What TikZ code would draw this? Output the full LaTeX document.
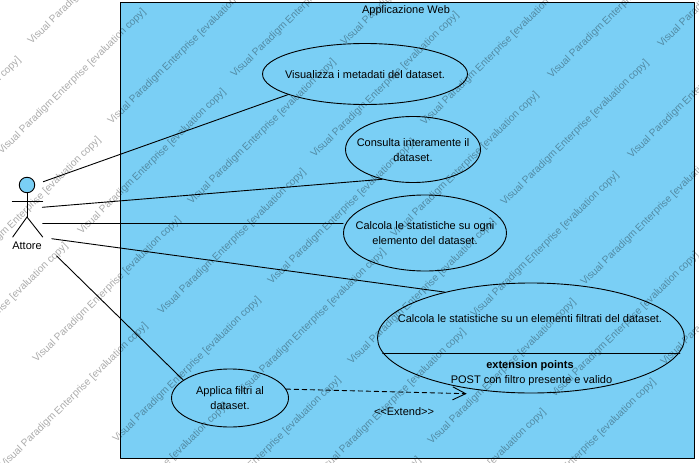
\documentclass[tikz,border=0pt]{standalone}
\usepackage{fontspec}
\setmainfont{Liberation Sans}
\usepackage{tikz}
\usetikzlibrary{arrows.meta}
\usetikzlibrary{shapes.geometric}
\definecolor{ucblue}{RGB}{122,207,245}
\tikzset{
  usecase/.style={draw=black,fill=ucblue,ellipse,line width=0.9pt,inner sep=0pt},
  uctext/.style={align=center,inner sep=0pt,yshift=-0.4pt,font=\fontsize{11}{15}\selectfont},
  assoc/.style={line width=0.9pt,color=black},
  wmark/.style={rotate=44.5,inner sep=0pt,text=black,text opacity=0.33,font=\fontsize{10.2}{12}\selectfont}
}
\begin{document}
\begin{tikzpicture}[line cap=round,line join=round,x=1pt,y=-1pt]
\useasboundingbox (0,0) rectangle (699,463);
\clip (0,0) rectangle (699,463);
\draw[line width=0.9pt,color=black,fill=ucblue] (120.5,2.5) rectangle (694.5,458.5);
\node[uctext] (titolo) at (406,10) {Applicazione Web};
%casi d'uso
\node[usecase,minimum width=205pt,minimum height=61pt] (uc1) at (365,74) {};
\node[usecase,minimum width=135pt,minimum height=66pt] (uc2) at (413,149.5) {};
\node[usecase,minimum width=163pt,minimum height=76pt] (uc3) at (425,233) {};
\node[usecase,minimum width=307pt,minimum height=110pt] (uc4) at (531,338) {};
\node[usecase,minimum width=117pt,minimum height=58pt] (uc5) at (230,398) {};
\node[uctext] (t1) at (uc1) {Visualizza i metadati del dataset.};
\node[uctext] (t2) at (uc2) {Consulta interamente il\\dataset.};
\node[uctext] (t3) at (uc3) {Calcola le statistiche su ogni\\elemento del dataset.};
\node[uctext] (t4) at (530,318) {Calcola le statistiche su un elementi filtrati del dataset.};
\node[uctext] (t4a) at (530,365) {\bfseries extension points};
\node[uctext] (t4b) at (531.5,380) {POST con filtro presente e valido};
\node[uctext] (t5) at (uc5) {Applica filtri al\\dataset.};
\coordinate (sepa) at (382.7,353.3);
\coordinate (sepb) at (680,353.3);
\draw[assoc] (sepa) -- (sepb);
%attore
\node[draw=black,fill=ucblue,circle,line width=0.9pt,minimum size=15.5pt,inner sep=0pt] (testa) at (27,185) {};
\coordinate (anca) at (27,217);
\draw[assoc] (testa) -- (anca);
\draw[assoc] (12.3,201.3) -- (42.7,201.3);
\draw[assoc] (anca) -- (12.7,237);
\draw[assoc] (anca) -- (42.7,237);
\node[uctext] (attore) at (27,245) {Attore};
%associazioni
\coordinate (a1) at (43.3,181.7);
\coordinate (a2) at (42.3,207.3);
\coordinate (a3) at (42.7,223.3);
\coordinate (a4) at (51.7,238.7);
\coordinate (a5) at (56.7,256);
\coordinate (punta) at (466.7,393.7);
\draw[assoc] (a1) -- (uc1.195.6);
\draw[assoc] (a2) -- (uc2.224.5);
\draw[assoc] (a3) -- (a3-|uc3.west);
\draw[assoc] (a4) -- (uc4.152.4);
\draw[assoc] (a5) -- (uc5.159.5);
\draw[assoc,dash pattern=on 4.5pt off 3.5pt,-{Straight Barb[length=13pt,width=13pt,line width=0.9pt]}] (uc5.9.4) -- (punta);
\node[uctext] (extend) at (404,411) {<{}<Extend>{}>};
%scritte di valutazione
\foreach \xa/\ya/\n in {-6/316/2,-53/130/5,72/82/5,102/-28/6,305/5/4,415/-27/4,622/6/1,732/-25/0}
\foreach \k in {0,...,\n}
\node[wmark] (wm\xa-\k) at ({\xa+80*\k},{\ya+80*\k}) {Visual Paradigm Enterprise [evaluation copy]};
\end{tikzpicture}
\end{document}
